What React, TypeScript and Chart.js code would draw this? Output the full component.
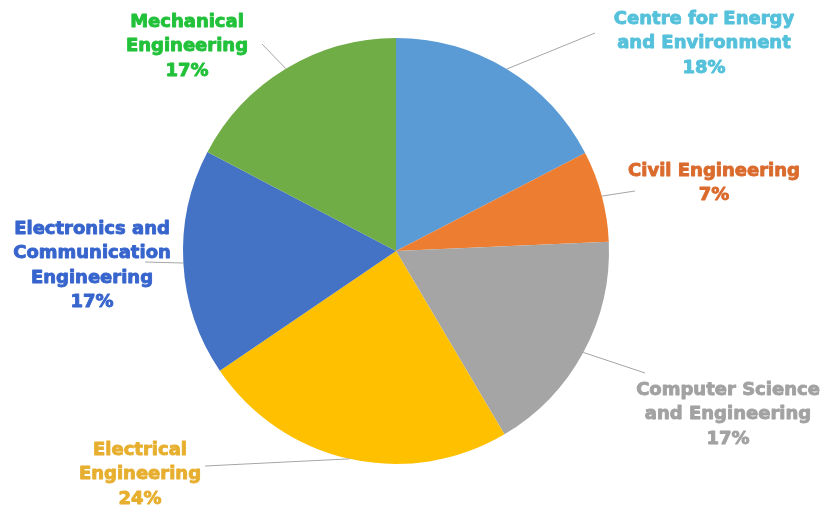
import React, { useEffect, useRef } from "react";
import { Chart, registerables } from "chart.js";

Chart.register(...registerables);

const categories = [
  "Centre for Energy and Environment",
  "Civil Engineering",
  "Computer Science and Engineering",
  "Electrical Engineering",
  "Electronics and Communication Engineering",
  "Mechanical Engineering",
];
const shares = [17.4, 6.9, 17.2, 24.0, 17.2, 17.3];
const percentLabels = ["18%", "7%", "17%", "24%", "17%", "17%"];
const labelLines = [
  ["Centre for Energy", "and Environment"],
  ["Civil Engineering"],
  ["Computer Science", "and Engineering"],
  ["Electrical", "Engineering"],
  ["Electronics and", "Communication", "Engineering"],
  ["Mechanical", "Engineering"],
];

const sliceColors = ["#5B9BD5", "#ED7D31", "#A5A5A5", "#FFC000", "#4472C4", "#70AD47"];
const textColors = ["#55C1DB", "#DA6B2D", "#A2A2A2", "#E7AF2F", "#3765CD", "#22C13A"];

// label layout (text block centre x, first line y) and leader outer point
const labelLayout = [
  { x: 704, y: 19, lx: 595, ly: 33 },
  { x: 714, y: 171, lx: 635, ly: 191 },
  { x: 728, y: 390, lx: 645, ly: 373 },
  { x: 140, y: 450, lx: 205, ly: 466 },
  { x: 92, y: 229, lx: 145, ly: 262 },
  { x: 187, y: 22, lx: 262, ly: 44 },
];

const labelPlugin = {
  id: "pieLabels",
  afterDatasetsDraw(chart: any) {
    const ctx = chart.ctx as CanvasRenderingContext2D;
    const meta = chart.getDatasetMeta(0);
    ctx.save();
    meta.data.forEach((arc: any, i: number) => {
      const p = arc.getProps(["x", "y", "startAngle", "endAngle", "outerRadius"], true);
      const mid = (p.startAngle + p.endAngle) / 2;
      const ix = p.x + Math.cos(mid) * p.outerRadius;
      const iy = p.y + Math.sin(mid) * p.outerRadius;
      const L = labelLayout[i];
      ctx.strokeStyle = "#A6A6A6";
      ctx.lineWidth = 1;
      ctx.beginPath();
      ctx.moveTo(ix, iy);
      ctx.lineTo(L.lx, L.ly);
      ctx.stroke();

      ctx.fillStyle = textColors[i];
      ctx.strokeStyle = textColors[i];
      ctx.lineWidth = 0.9;
      ctx.lineJoin = "round";
      ctx.font = "bold 18px 'DejaVu Sans'";
      ctx.textAlign = "center";
      ctx.textBaseline = "middle";
      const lines = [...labelLines[i], percentLabels[i]];
      lines.forEach((t, k) => {
        ctx.fillText(t, L.x, L.y + k * 24.5);
        ctx.strokeText(t, L.x, L.y + k * 24.5);
      });
    });
    ctx.restore();
  },
};

export default function App() {
  const ref = useRef<HTMLCanvasElement | null>(null);
  useEffect(() => {
    if (!ref.current) return;
    const chart = new Chart(ref.current, {
      type: "pie",
      data: {
        labels: categories,
        datasets: [
          {
            data: shares,
            backgroundColor: sliceColors,
            borderWidth: 0,
          },
        ],
      },
      options: {
        responsive: false,
        animation: false,
        layout: { padding: { left: 183, right: 229, top: 38, bottom: 44 } },
        plugins: {
          legend: { display: false },
          tooltip: { enabled: false },
        },
      },
      plugins: [labelPlugin],
    });
    return () => chart.destroy();
  }, []);
  return (
    <div style={{ position: "absolute", left: 0, top: 0, width: 838, height: 508, background: "#fff" }}>
      <canvas ref={ref} width={838} height={508} />
    </div>
  );
}
